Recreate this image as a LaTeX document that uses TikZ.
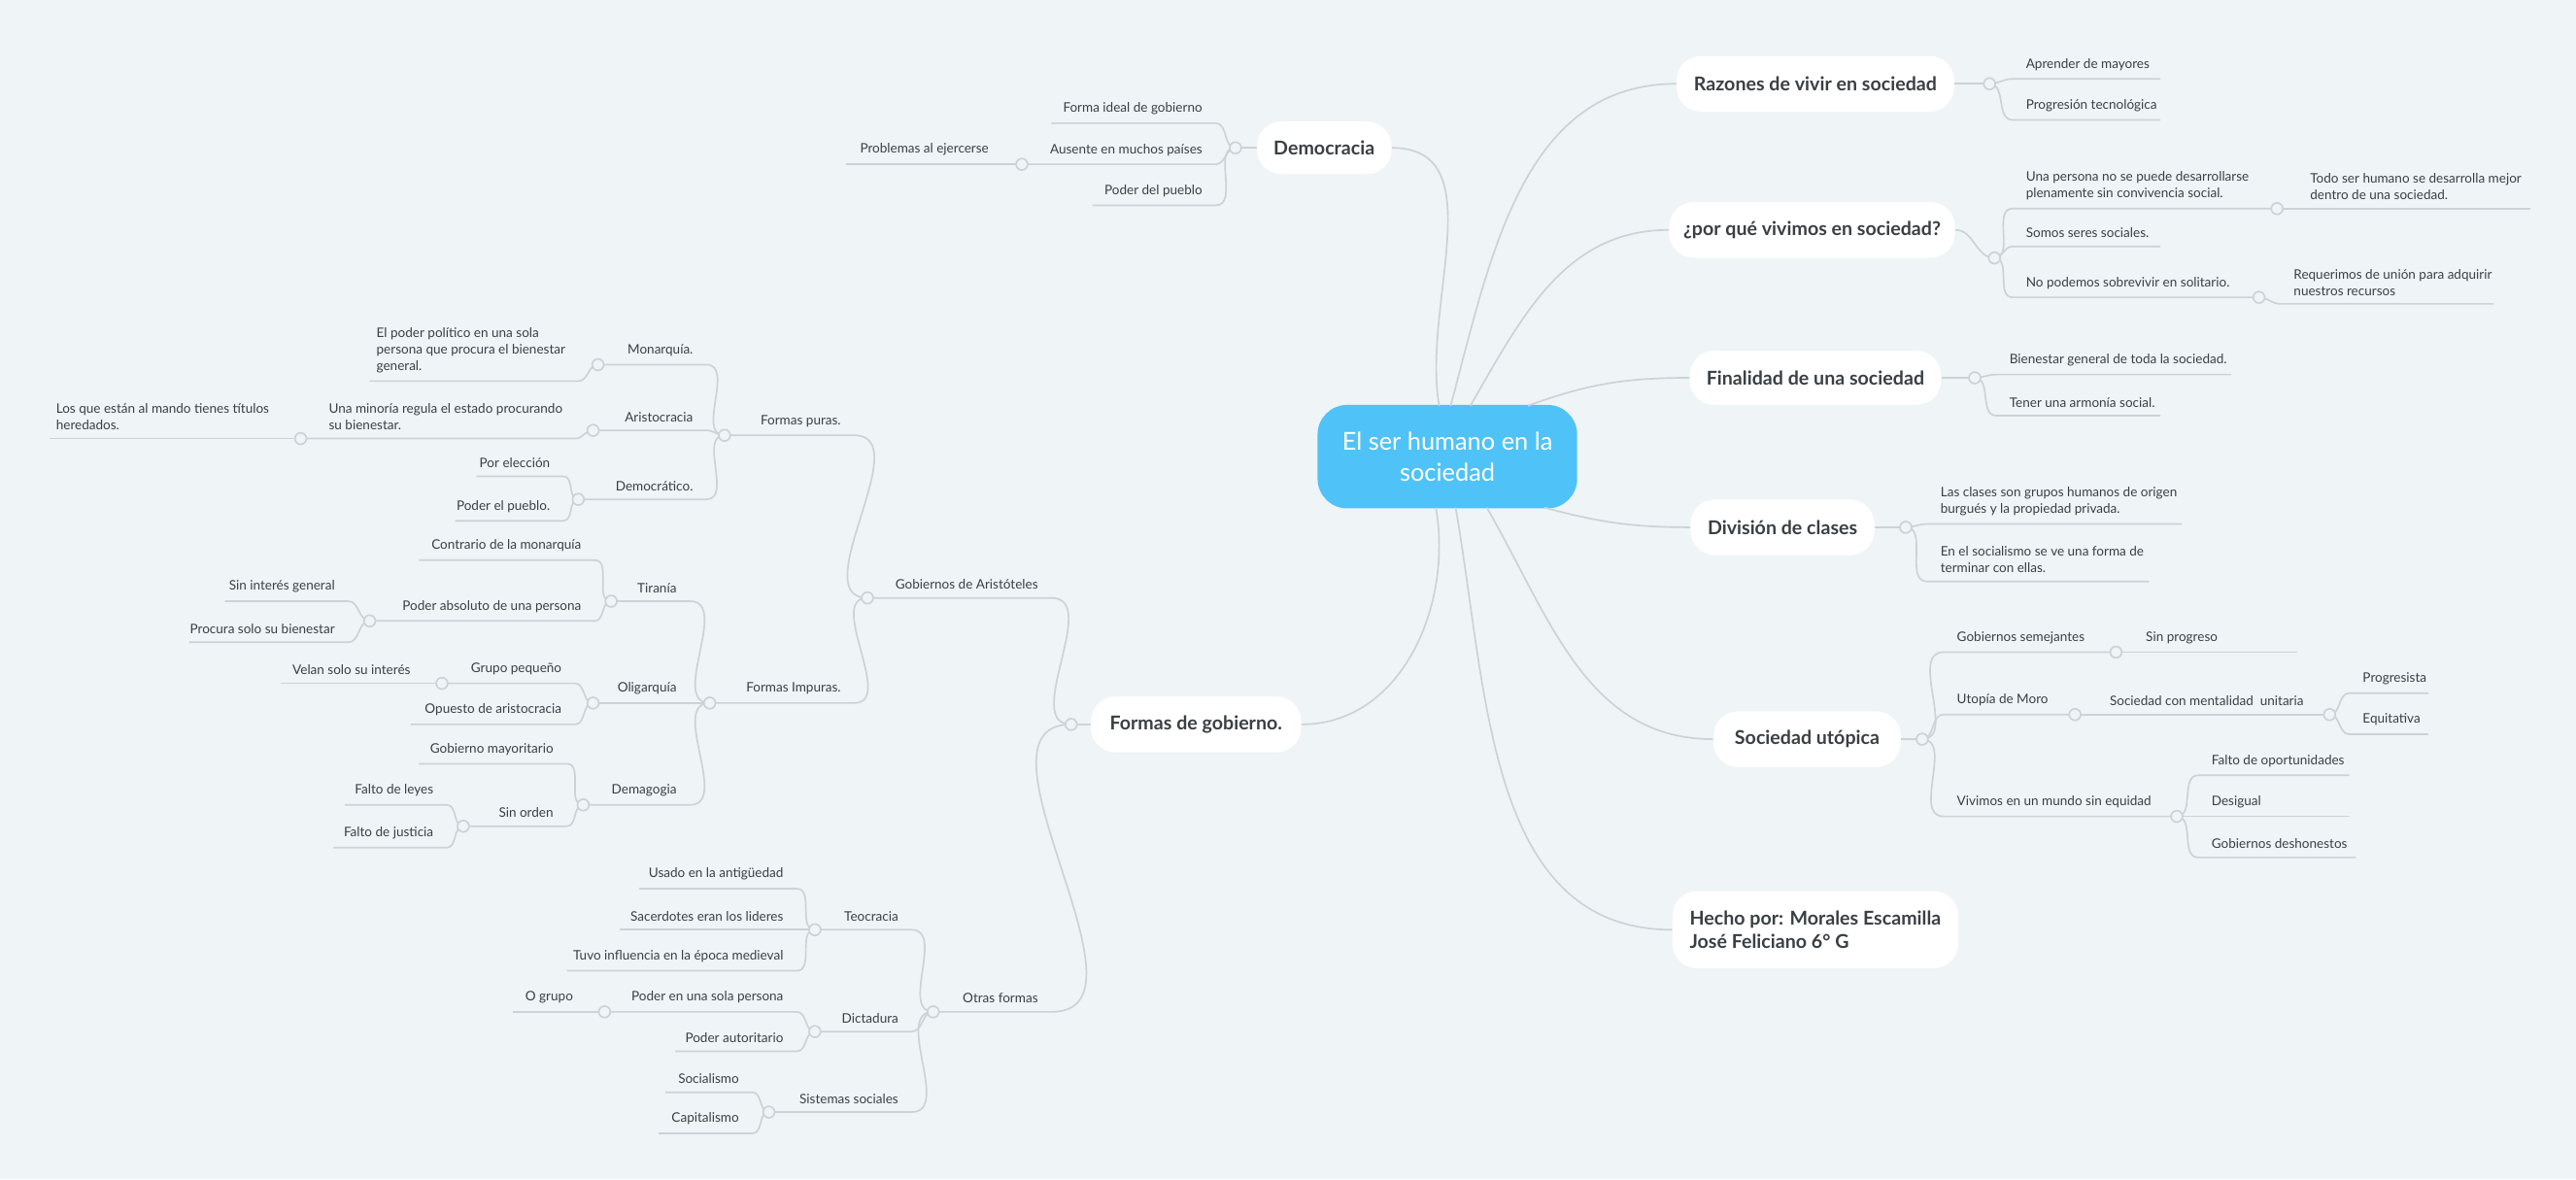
\documentclass[tikz,border=0pt]{standalone}
\usepackage{fontspec}
\setmainfont{Lato}
\begin{document}
\definecolor{bg}{HTML}{EFF4F7}
\definecolor{ln}{HTML}{CDD2D6}
\definecolor{tx}{HTML}{3A3F44}
\definecolor{cb}{HTML}{4FC3F7}
\tikzset{
 lnk/.style={draw=ln,line width=1pt},
 lt/.style={text=tx,font=\fontsize{8}{10}\selectfont,inner sep=0pt},
 dot/.style={circle,draw=ln,fill=bg,line width=1pt,minimum size=7pt,inner sep=0pt},
 topic/.style={rounded corners=15pt,fill=white,text=tx,font=\fontsize{11.6}{14}\selectfont\bfseries,inner sep=0pt}
}
\newcommand\RL[6]{\coordinate (#2) at (#3,-#4);\coordinate (#2e) at (#5,-#4);
 \draw[lnk] (#1) to[out=0,in=180] (#2) -- (#2e);
 \node[lt,anchor=south west,align=left] (#2t) at (#3+8,-#4+5) {#6};}
\newcommand\LL[6]{\coordinate (#2) at (#3,-#4);\coordinate (#2e) at (#5,-#4);
 \draw[lnk] (#1) to[out=180,in=0] (#2) -- (#2e);
 \node[lt,anchor=south east,align=right] (#2t) at (#3-8,-#4+5) {#6};}
\newcommand\Pt[3]{\coordinate (#1) at (#2,-#3);}
\begin{tikzpicture}[x=1pt,y=1pt]
\fill[bg] (0,0) rectangle (1568,-718);
\useasboundingbox (0,0) rectangle (1568,-718);
% center
\node[fill=cb,rounded corners=18pt,minimum width=158pt,minimum height=63pt,text=white,align=center,font=\fontsize{15}{19}\selectfont,inner sep=0pt] (c) at (881,-278) {El ser humano en la\\sociedad};
% topics
\node[topic,minimum width=169pt,minimum height=34pt] (raz) at (1105,-51) {Razones de vivir en sociedad};
\node[topic,minimum width=174pt,minimum height=34pt] (por) at (1103,-140) {¿por qué vivimos en sociedad?};
\node[topic,minimum width=153pt,minimum height=33pt] (fin) at (1105,-230) {Finalidad de una sociedad};
\node[topic,minimum width=112pt,minimum height=34pt] (div) at (1085,-321) {División de clases};
\node[topic,minimum width=114pt,minimum height=34pt] (uto) at (1100,-450) {Sociedad utópica};
\node[topic,minimum width=174pt,minimum height=47pt,align=left] (hec) at (1105,-566) {Hecho por: Morales Escamilla\\José Feliciano 6° G};
\node[topic,minimum width=82pt,minimum height=32pt] (dem) at (806,-90) {Democracia};
\node[topic,minimum width=128pt,minimum height=34pt] (for) at (728,-441) {Formas de gobierno.};
% center links
\draw[lnk] (876,-247) to[out=100,in=0] (dem.east);
\draw[lnk] (874,-309) to[out=-80,in=0] (for.east);
\draw[lnk] (883,-247) to[out=75,in=180] (raz.west);
\draw[lnk] (895,-247) to[out=60,in=180] (por.west);
\draw[lnk] (930,-247) to[out=20,in=180] (fin.west);
\draw[lnk] (940,-309) to[out=-15,in=180] (div.west);
\draw[lnk] (905,-309) to[out=-60,in=180] (uto.west);
\draw[lnk] (886,-309) to[out=-80,in=180] (hec.west);
% topic dots
\Pt{d1}{1211}{51}\Pt{d2}{1214}{157}\Pt{d3}{1202}{230}\Pt{d4}{1160}{321}\Pt{d5}{1170}{450}
\Pt{d6}{752}{90}\Pt{d7}{652}{441}
\draw[lnk] (raz.east) -- (d1);
\draw[lnk] (por.east) to[out=0,in=180] (d2);
\draw[lnk] (fin.east) -- (d3);
\draw[lnk] (div.east) -- (d4);
\draw[lnk] (uto.east) -- (d5);
\draw[lnk] (dem.west) -- (d6);
\draw[lnk] (for.west) -- (d7);
% Razones
\RL{d1}{a1}{1225}{48}{1315}{Aprender de mayores}
\RL{d1}{a2}{1225}{73}{1315}{Progresión tecnológica}
% por que
\RL{d2}{b1}{1225}{127}{1385}{Una persona no se puede desarrollarse\\plenamente sin convivencia social.}
\Pt{db1}{1386}{127}
\RL{db1}{b11}{1398}{127}{1540}{Todo ser humano se desarrolla mejor\\dentro de una sociedad.}
\RL{d2}{b2}{1225}{150}{1315}{Somos seres sociales.}
\RL{d2}{b3}{1225}{181}{1375}{No podemos sobrevivir en solitario.}
\Pt{db3}{1375}{181}
\RL{db3}{b31}{1388}{185}{1518}{Requerimos de unión para adquirir\\nuestros recursos}
% Finalidad
\RL{d3}{f1}{1215}{228}{1358}{Bienestar general de toda la sociedad.}
\RL{d3}{f2}{1215}{253}{1315}{Tener una armonía social.}
% Division
\RL{d4}{v1}{1173}{319}{1328}{Las clases son grupos humanos de origen\\burgués y la propiedad privada.}
\RL{d4}{v2}{1173}{354}{1308}{En el socialismo se ve una forma de\\terminar con ellas.}
% Utopica
\RL{d5}{u1}{1183}{397}{1288}{Gobiernos semejantes}
\Pt{du1}{1288}{397}
\RL{du1}{u11}{1298}{397}{1398}{Sin progreso}
\RL{d5}{u2}{1183}{435}{1263}{Utopía de Moro}
\Pt{du2}{1263}{435}
\RL{du2}{u21}{1276}{435}{1418}{Sociedad con mentalidad\ \ unitaria}
\Pt{du21}{1418}{435}
\RL{du21}{u211}{1430}{422}{1478}{Progresista}
\RL{du21}{u212}{1430}{447}{1478}{Equitativa}
\RL{d5}{u3}{1183}{497}{1325}{Vivimos en un mundo sin equidad}
\Pt{du3}{1325}{497}
\RL{du3}{u31}{1338}{472}{1430}{Falto de oportunidades}
\RL{du3}{u32}{1338}{497}{1430}{Desigual}
\RL{du3}{u33}{1338}{522}{1434}{Gobiernos deshonestos}
% Democracia
\LL{d6}{m1}{740}{75}{640}{Forma ideal de gobierno}
\LL{d6}{m2}{740}{100}{622}{Ausente en muchos países}
\Pt{dm2}{622}{100}
\LL{dm2}{m21}{610}{100}{515}{Problemas al ejercerse}
\LL{d6}{m3}{740}{125}{665}{Poder del pueblo}
% Formas de gobierno
\LL{d7}{g1}{640}{364}{528}{Gobiernos de Aristóteles}
\Pt{dg1}{528}{364}
\LL{dg1}{p}{520}{265}{441}{Formas puras.}
\Pt{dp}{441}{265}
\LL{dp}{p1}{430}{222}{364}{Monarquía.}
\Pt{dp1}{364}{222}
\LL{dp1}{p11}{352}{232}{225}{}
\node[lt,anchor=south west,align=left] at (229,-227) {El poder político en una sola\\persona que procura el bienestar\\general.};
\LL{dp}{p2}{430}{262}{361}{Aristocracia}
\Pt{dp2}{361}{262}
\LL{dp2}{p21}{350}{267}{183}{}
\node[lt,anchor=south west,align=left] at (200,-262) {Una minoría regula el estado procurando\\su bienestar.};
\Pt{dp21}{183}{267}
\LL{dp21}{p211}{173}{267}{30}{}
\node[lt,anchor=south west,align=left] at (34,-262) {Los que están al mando tienes títulos\\heredados.};
\LL{dp}{p3}{430}{304}{352}{Democrático.}
\Pt{dp3}{352}{304}
\LL{dp3}{p31}{343}{290}{290}{Por elección}
\LL{dp3}{p32}{343}{317}{277}{Poder el pueblo.}
\LL{dg1}{q}{520}{428}{432}{Formas Impuras.}
\Pt{dq}{432}{428}
\LL{dq}{q1}{420}{366}{372}{Tiranía}
\Pt{dq1}{372}{366}
\LL{dq1}{q11}{362}{341}{255}{Contrario de la monarquía}
\LL{dq1}{q12}{362}{378}{225}{Poder absoluto de una persona}
\Pt{dq12}{225}{378}
\LL{dq12}{q121}{212}{366}{137}{Sin interés general}
\LL{dq12}{q122}{212}{391}{115}{Procura solo su bienestar}
\LL{dq}{q2}{420}{428}{361}{Oligarquía}
\Pt{dq2}{361}{428}
\LL{dq2}{q21}{350}{416}{269}{Grupo pequeño}
\Pt{dq21}{269}{416}
\LL{dq21}{q211}{258}{416}{171}{Velan solo su interés}
\LL{dq2}{q22}{350}{441}{250}{Opuesto de aristocracia}
\LL{dq}{q3}{420}{490}{355}{Demagogia}
\Pt{dq3}{355}{490}
\LL{dq3}{q31}{345}{465}{255}{Gobierno mayoritario}
\LL{dq3}{q32}{345}{503}{282}{Sin orden}
\Pt{dq32}{282}{503}
\LL{dq32}{q321}{272}{490}{210}{Falto de leyes}
\LL{dq32}{q322}{272}{516}{203}{Falto de justicia}
\LL{d7}{o}{640}{616}{568}{Otras formas}
\Pt{do}{568}{616}
\LL{do}{o1}{555}{566}{496}{Teocracia}
\Pt{do1}{496}{566}
\LL{do1}{o11}{485}{541}{389}{Usado en la antigüedad}
\LL{do1}{o12}{485}{566}{377}{Sacerdotes eran los lideres}
\LL{do1}{o13}{485}{591}{345}{Tuvo influencia en la época medieval}
\LL{do}{o2}{555}{628}{496}{Dictadura}
\Pt{do2}{496}{628}
\LL{do2}{o21}{485}{616}{368}{Poder en una sola persona}
\Pt{do21}{368}{616}
\LL{do21}{o211}{357}{616}{312}{O grupo}
\LL{do2}{o22}{485}{640}{411}{Poder autoritario}
\LL{do}{o3}{555}{677}{468}{Sistemas sociales}
\Pt{do3}{468}{677}
\LL{do3}{o31}{458}{665}{405}{Socialismo}
\LL{do3}{o32}{458}{690}{401}{Capitalismo}
% dots on top
\foreach \n in {d1,d2,d3,d4,d5,d6,d7,db1,db3,du1,du2,du21,du3,dm2,dg1,dp,dp1,dp2,dp21,dp3,dq,dq1,dq12,dq2,dq21,dq3,dq32,do,do1,do2,do21,do3}
  \node[dot] at (\n) {};
\end{tikzpicture}
\end{document}
